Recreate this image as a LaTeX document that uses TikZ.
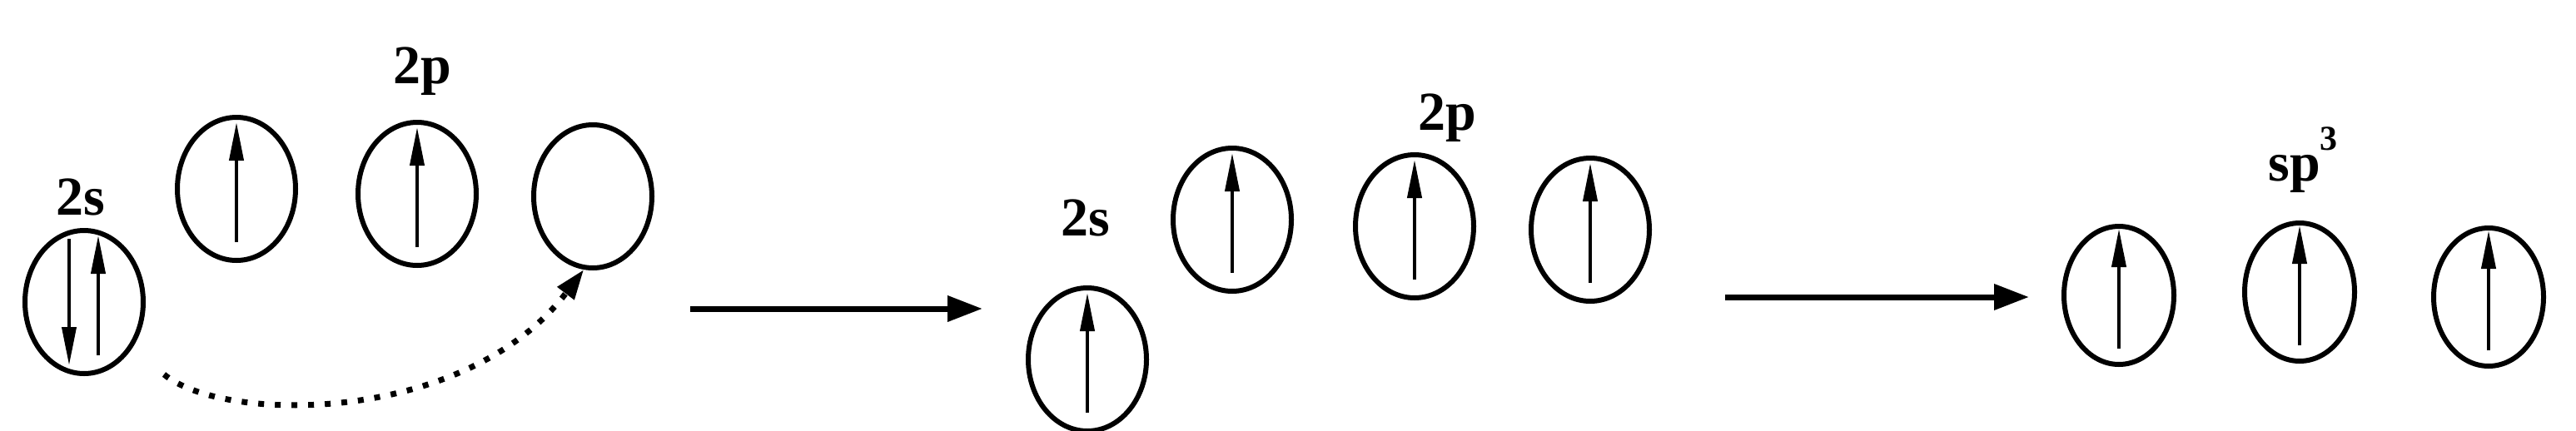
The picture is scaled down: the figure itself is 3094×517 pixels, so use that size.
\documentclass[tikz,border=0pt]{standalone}
\usepackage{fontspec}
\setmainfont{Liberation Serif}
\usetikzlibrary{arrows.meta,shapes.geometric}
\newcommand\upel[2][0]{\draw[elec] ([shift={(#1,-64)}]#2.center) -- ([shift={(#1,80)}]#2.center);}
\newcommand\dnel[2][0]{\draw[elec] ([shift={(#1,76)}]#2.center) -- ([shift={(#1,-76)}]#2.center);}
\begin{document}
\begin{tikzpicture}[x=1pt,y=1pt,
  orb/.style={draw,ellipse,line width=6pt,minimum width=142pt,minimum height=172pt,inner sep=0pt},
  orbs/.style={orb,minimum width=132pt,minimum height=166pt},
  elec/.style={line width=4pt,-{Triangle[length=46pt,width=17pt]}},
  lbl/.style={font=\bfseries\fontsize{66}{72}\selectfont,inner sep=0pt},
  react/.style={line width=7pt,-{Triangle[length=42pt,width=30pt]}},
  dotarc/.style={line width=7pt,dash pattern=on 7pt off 13pt,-{Triangle[length=36pt,width=24pt]}}]
\useasboundingbox (0,-517) rectangle (3094,0);
% first group
\node[orb] (s1) at (101,-363) {};
\node[orb] (p1) at (284,-227) {};
\node[orb] (p2) at (501,-233) {};
\node[orb] (p3) at (712,-236) {};
\node[lbl] (l2s1) at (97,-237) {2s};
\node[lbl] (l2p1) at (507,-86) {2p};
\dnel[-18]{s1}
\upel[17]{s1}
\upel{p1}
\upel{p2}
\coordinate (d0) at (197,-450);
\draw[dotarc] (d0) .. controls (270,-510) and (560,-510) .. (p3.-97);
% arrow 1
\coordinate (a1s) at (829,-371);
\coordinate (a1e) at (1180,-371);
\draw[react] (a1s) -- (a1e);
% second group
\node[orb] (s2) at (1306,-432) {};
\node[orb] (q1) at (1480,-264) {};
\node[orb] (q2) at (1699,-272) {};
\node[orb] (q3) at (1910,-276) {};
\node[lbl] (l2s2) at (1304,-262) {2s};
\node[lbl] (l2p2) at (1738,-142) {2p};
\upel{s2}
\upel{q1}
\upel{q2}
\upel{q3}
% arrow 2
\coordinate (a2s) at (2072,-357);
\coordinate (a2e) at (2437,-357);
\draw[react] (a2s) -- (a2e);
% third group
\node[orbs] (h1) at (2545,-355) {};
\node[orbs] (h2) at (2762,-351) {};
\node[orbs] (h3) at (2989,-357) {};
\node[lbl] (lsp) at (2766,-192) {sp\raisebox{0.55em}{\fontsize{42}{44}\selectfont 3}};
\upel{h1}
\upel{h2}
\upel{h3}
\end{tikzpicture}
\end{document}
